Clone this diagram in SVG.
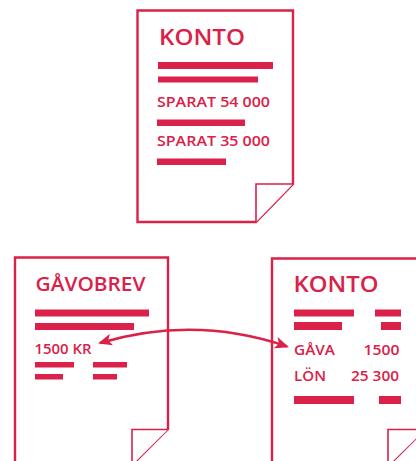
<svg xmlns="http://www.w3.org/2000/svg" width="416" height="461" viewBox="0 0 416 461">
<style>
.doc{fill:#fff;stroke:#DA2149;stroke-width:2.4;stroke-linejoin:miter}
.fold{fill:#fff;stroke:#DA2149;stroke-width:1.6}
.bar{fill:#DA2149}
.t{fill:#DA2149;font-family:"Open Sans","Liberation Sans",sans-serif;font-weight:600}
.h{font-size:22px}
.h2{font-size:20px}
.s{font-size:14px}
.m{font-size:15px}
.c{fill:none;stroke:#DA2149;stroke-width:2.5}
</style>
<defs>
<marker id="ah" viewBox="0 0 14 12" refX="12" refY="6" markerWidth="14" markerHeight="12" markerUnits="userSpaceOnUse" orient="auto-start-reverse">
<path d="M0,0 L14,6 L0,12 L3.5,6 Z" fill="#DA2149"/>
</marker>
</defs>
<rect width="416" height="461" fill="#fff"/>
<g id="konto-top">
<path class="doc" d="M137.5,10.5 H293 V184 L256,222 H137.5 Z"/>
<path class="fold" d="M256,222 V184 H293"/>
<text class="t h" x="159" y="45" textLength="86" lengthAdjust="spacingAndGlyphs">KONTO</text>
<rect class="bar" x="158" y="62" width="115" height="7"/>
<rect class="bar" x="158" y="76.5" width="100" height="6"/>
<text class="t s" x="157" y="106.5" textLength="113" lengthAdjust="spacingAndGlyphs">SPARAT  54 000</text>
<rect class="bar" x="157" y="119.5" width="88" height="6.5"/>
<text class="t s" x="157" y="146" textLength="113" lengthAdjust="spacingAndGlyphs">SPARAT  35 000</text>
<rect class="bar" x="157" y="158.5" width="69" height="6.5"/>
</g>
<g id="gavobrev">
<path class="doc" d="M15,257.5 H168 V429 L132,465 H15 Z"/>
<path class="fold" d="M132,465 V429.5 H168"/>
<text class="t h2" x="35.5" y="290.5" textLength="110" lengthAdjust="spacingAndGlyphs">GÅVOBREV</text>
<rect class="bar" x="35" y="309.5" width="114" height="7"/>
<rect class="bar" x="35" y="323" width="99" height="7"/>
<text class="t s" x="34.5" y="353.5" textLength="57" lengthAdjust="spacingAndGlyphs">1500 KR</text>
<rect class="bar" x="35" y="362" width="39" height="5.5"/>
<rect class="bar" x="93" y="362" width="34" height="5.5"/>
<rect class="bar" x="35" y="374" width="28" height="5.5"/>
<rect class="bar" x="93" y="374" width="24" height="5.5"/>
</g>
<g id="konto-right">
<path class="doc" d="M272,258.5 H425 V429 L388,466 H272 Z"/>
<path class="fold" d="M388,466 V429.5 H425"/>
<text class="t h" x="293.5" y="291.5" textLength="85" lengthAdjust="spacingAndGlyphs">KONTO</text>
<rect class="bar" x="294" y="309.5" width="60" height="7"/>
<rect class="bar" x="375" y="309.5" width="26" height="7"/>
<rect class="bar" x="294" y="322" width="48" height="8"/>
<rect class="bar" x="381" y="322" width="20" height="8"/>
<text class="t m" x="294" y="355" textLength="41" lengthAdjust="spacingAndGlyphs">GÅVA</text>
<text class="t m" x="363.5" y="355" textLength="36" lengthAdjust="spacingAndGlyphs">1500</text>
<text class="t m" x="294" y="381" textLength="32" lengthAdjust="spacingAndGlyphs">LÖN</text>
<text class="t m" x="351" y="381" textLength="48" lengthAdjust="spacingAndGlyphs">25 300</text>
<rect class="bar" x="294" y="396" width="60" height="8"/>
<rect class="bar" x="379" y="396" width="22" height="8"/>
</g>
<g id="connectors">
<path class="c" d="M100,343 Q195,315 287,346.5" marker-start="url(#ah)" marker-end="url(#ah)"/>
</g>
</svg>
